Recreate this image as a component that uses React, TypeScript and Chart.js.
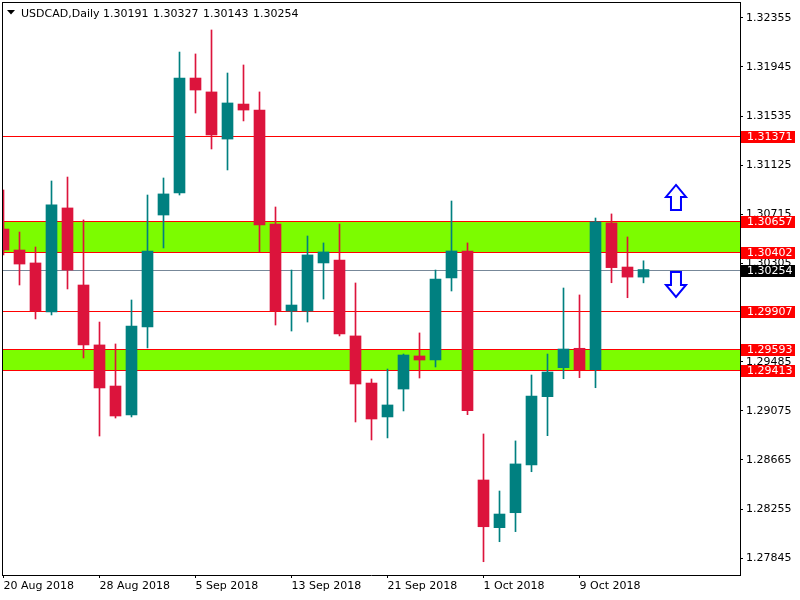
import { useEffect, useRef } from "react";
import { Chart, registerables } from "chart.js";

Chart.register(...registerables);

const symbolName = "USDCAD,Daily";

const dates = [
  "20 Aug 2018", "21 Aug 2018", "22 Aug 2018", "23 Aug 2018", "24 Aug 2018",
  "27 Aug 2018", "28 Aug 2018", "29 Aug 2018", "30 Aug 2018", "31 Aug 2018",
  "3 Sep 2018", "4 Sep 2018", "5 Sep 2018", "6 Sep 2018", "7 Sep 2018",
  "10 Sep 2018", "11 Sep 2018", "12 Sep 2018", "13 Sep 2018", "14 Sep 2018",
  "17 Sep 2018", "18 Sep 2018", "19 Sep 2018", "20 Sep 2018", "21 Sep 2018",
  "24 Sep 2018", "25 Sep 2018", "26 Sep 2018", "27 Sep 2018", "28 Sep 2018",
  "1 Oct 2018", "2 Oct 2018", "3 Oct 2018", "4 Oct 2018", "5 Oct 2018",
  "8 Oct 2018", "9 Oct 2018", "10 Oct 2018", "11 Oct 2018", "12 Oct 2018",
  "15 Oct 2018",
];

const opens = [
  1.30592, 1.30417, 1.30309, 1.29900, 1.30768, 1.30125, 1.29625, 1.29282, 1.29040, 1.29775,
  1.30709, 1.30893, 1.31852, 1.31736, 1.31343, 1.31635, 1.31585, 1.30634, 1.29908, 1.29908,
  1.30309, 1.30334, 1.29700, 1.29307, 1.29024, 1.29257, 1.29533, 1.29499, 1.30184, 1.30409,
  1.28498, 1.28100, 1.28225, 1.28623, 1.29193, 1.29435, 1.29597, 1.29418, 1.30643, 1.30275,
  1.30191,
];
const highs = [
  1.30918, 1.30567, 1.30442, 1.30993, 1.31026, 1.30668, 1.29816, 1.29633, 1.30000, 1.30876,
  1.31018, 1.32069, 1.32053, 1.32253, 1.31894, 1.31961, 1.31736, 1.30776, 1.30250, 1.30534,
  1.30476, 1.30634, 1.30142, 1.29341, 1.29424, 1.29549, 1.29725, 1.30250, 1.30826, 1.30476,
  1.28882, 1.28406, 1.28824, 1.29374, 1.29549, 1.30100, 1.30042, 1.30684, 1.30718, 1.30526,
  1.30327,
];
const lows = [
  1.30376, 1.30125, 1.29842, 1.29875, 1.30092, 1.29516, 1.28865, 1.29015, 1.29024, 1.29600,
  1.30434, 1.30876, 1.31560, 1.31260, 1.31085, 1.31494, 1.30401, 1.29791, 1.29741, 1.29816,
  1.30008, 1.29700, 1.28982, 1.28832, 1.28849, 1.29074, 1.29349, 1.29441, 1.30075, 1.29043,
  1.27816, 1.27983, 1.28067, 1.28567, 1.28868, 1.29343, 1.29352, 1.29268, 1.30144, 1.30019,
  1.30143,
];
const closes = [
  1.30417, 1.30300, 1.29908, 1.30793, 1.30250, 1.29625, 1.29266, 1.29032, 1.29783, 1.30409,
  1.30885, 1.31852, 1.31752, 1.31377, 1.31644, 1.31585, 1.30626, 1.29908, 1.29958, 1.30376,
  1.30401, 1.29716, 1.29299, 1.29007, 1.29124, 1.29541, 1.29499, 1.30175, 1.30409, 1.29076,
  1.28108, 1.28214, 1.28632, 1.29199, 1.29399, 1.29591, 1.29418, 1.30653, 1.30270, 1.30191,
  1.30254,
];

const xTickLabels = [
  "20 Aug 2018", "28 Aug 2018", "5 Sep 2018", "13 Sep 2018",
  "21 Sep 2018", "1 Oct 2018", "9 Oct 2018",
];
const yTickValues = [
  1.27845, 1.28255, 1.28665, 1.29075, 1.29485, 1.29895,
  1.30305, 1.30715, 1.31125, 1.31535, 1.31945, 1.32355,
];

const levelLines = [1.31371, 1.29907];
const zoneTops = [1.30657, 1.29593];
const zoneBottoms = [1.30402, 1.29413];
const arrowUpAt = { bar: 42.03, price: 1.3096 };
const arrowDownAt = { bar: 42.03, price: 1.30234 };

const X_MIN = -0.09375;
const X_MAX = 46.03125;
const Y_MIN = 1.277052;
const Y_MAX = 1.324865;

const BULL = "#008080";
const BEAR = "#DC143C";
const FONT = "DejaVu Sans";

export default function App() {
  const ref = useRef<HTMLCanvasElement | null>(null);

  useEffect(() => {
    const canvas = ref.current;
    if (!canvas) return;
    const n = dates.length;
    const colors = dates.map((_, i) => (closes[i] >= opens[i] ? BULL : BEAR));
    const bid = closes[n - 1];

    const rowOf = (chart: any, v: number) => Math.round(chart.scales.y.getPixelForValue(v));

    const background = {
      id: "levels",
      beforeDatasetsDraw(chart: any) {
        const { ctx, chartArea: a } = chart;
        ctx.save();
        ctx.beginPath();
        ctx.rect(a.left, a.top, a.right - a.left, a.bottom - a.top);
        ctx.clip();
        for (let k = 0; k < zoneTops.length; k++) {
          const r1 = rowOf(chart, zoneTops[k]);
          const r2 = rowOf(chart, zoneBottoms[k]);
          ctx.fillStyle = "#7CFC00";
          ctx.fillRect(a.left, r1, a.right - a.left, r2 - r1);
        }
        ctx.fillStyle = "#FF0000";
        [...zoneTops, ...zoneBottoms, ...levelLines].forEach((v) => {
          ctx.fillRect(a.left, rowOf(chart, v), a.right - a.left, 1);
        });
        ctx.fillStyle = "#778899";
        ctx.fillRect(a.left, rowOf(chart, bid), a.right - a.left, 1);
        ctx.restore();
      },
      afterDraw(chart: any) {
        const { ctx, chartArea: a, scales } = chart;
        ctx.save();
        // frame
        ctx.fillStyle = "#000";
        ctx.fillRect(a.left, a.top, a.right - a.left, 1);
        ctx.fillRect(a.left, a.top, 1, a.bottom - a.top);

        // arrows
        const drawArrow = (at: { bar: number; price: number }, up: boolean) => {
          const cx = scales.x.getPixelForValue(at.bar);
          const ty = scales.y.getPixelForValue(at.price);
          ctx.beginPath();
          if (up) {
            ctx.moveTo(cx, ty);
            ctx.lineTo(cx + 10, ty + 12);
            ctx.lineTo(cx + 5, ty + 12);
            ctx.lineTo(cx + 5, ty + 25);
            ctx.lineTo(cx - 5, ty + 25);
            ctx.lineTo(cx - 5, ty + 12);
            ctx.lineTo(cx - 10, ty + 12);
          } else {
            ctx.moveTo(cx - 5, ty);
            ctx.lineTo(cx + 5, ty);
            ctx.lineTo(cx + 5, ty + 13);
            ctx.lineTo(cx + 10, ty + 13);
            ctx.lineTo(cx, ty + 25);
            ctx.lineTo(cx - 10, ty + 13);
            ctx.lineTo(cx - 5, ty + 13);
          }
          ctx.closePath();
          ctx.fillStyle = "#FFFFFF";
          ctx.fill();
          ctx.lineWidth = 2;
          ctx.lineJoin = "miter";
          ctx.strokeStyle = "#0000FF";
          ctx.stroke();
        };
        drawArrow(arrowUpAt, true);
        drawArrow(arrowDownAt, false);

        // price labels
        ctx.font = `11px "${FONT}"`;
        ctx.textBaseline = "middle";
        ctx.textAlign = "left";
        const tag = (v: number, bg: string) => {
          const r = rowOf(chart, v);
          ctx.fillStyle = bg;
          ctx.fillRect(a.right + 1, r - 5, 54, 12);
          ctx.fillStyle = "#FFFFFF";
          ctx.fillText(v.toFixed(5), a.right + 7, r + 1.5);
        };
        levelLines.forEach((v) => tag(v, "#FF0000"));
        zoneTops.forEach((v) => tag(v, "#FF0000"));
        zoneBottoms.forEach((v) => tag(v, "#FF0000"));
        tag(bid, "#000000");

        // header
        ctx.fillStyle = "#000";
        ctx.beginPath();
        ctx.moveTo(7, 10);
        ctx.lineTo(15, 10);
        ctx.lineTo(11, 14.5);
        ctx.closePath();
        ctx.fill();
        ctx.textBaseline = "alphabetic";
        ctx.fillText(symbolName, 21, 16.5);
        const ohlc = [opens[n - 1], highs[n - 1], lows[n - 1], closes[n - 1]];
        ohlc.forEach((v, k) => ctx.fillText(v.toFixed(5), 103 + k * 50, 16.5));
        ctx.restore();
      },
    };

    const axisCommon = {
      grid: {
        display: true,
        drawOnChartArea: false,
        drawTicks: true,
        tickLength: 3,
        color: "#000",
        offset: false,
      },
      border: { display: true, color: "#000", width: 1 },
    };

    const chart = new Chart(canvas, {
      type: "bar",
      data: {
        datasets: [
          {
            label: "wick",
            data: dates.map((_, i) => ({ x: i, y: [lows[i], highs[i]] })),
            backgroundColor: colors,
            borderWidth: 0,
            barThickness: 1,
            grouped: false,
            order: 2,
          } as any,
          {
            label: "body",
            data: dates.map((_, i) => ({ x: i, y: [opens[i], closes[i]] })),
            backgroundColor: colors,
            borderWidth: 0,
            barThickness: 11,
            grouped: false,
            order: 1,
          } as any,
        ],
      },
      options: {
        animation: false,
        responsive: false,
        maintainAspectRatio: false,
        layout: { padding: { left: 2, top: 2, right: 0, bottom: 0 } },
        plugins: { legend: { display: false }, tooltip: { enabled: false } },
        scales: {
          x: {
            type: "linear",
            min: X_MIN,
            max: X_MAX,
            offset: false,
            ...axisCommon,
            ticks: {
              autoSkip: false,
              maxRotation: 0,
              minRotation: 0,
              align: "start",
              padding: 2,
              color: "#000",
              font: { family: FONT, size: 11 },
              callback: (v: any) => dates[Math.round(Number(v))] ?? "",
            },
            afterBuildTicks: (s: any) => {
              s.ticks = xTickLabels.map((l) => ({ value: dates.indexOf(l) }));
            },
            afterFit: (s: any) => {
              s.height = 25;
              s.paddingLeft = 0;
              s.paddingRight = 0;
            },
          },
          y: {
            type: "linear",
            position: "right",
            min: Y_MIN,
            max: Y_MAX,
            ...axisCommon,
            ticks: {
              autoSkip: false,
              padding: 3,
              color: "#000",
              font: { family: FONT, size: 11 },
              callback: (v: any) => Number(v).toFixed(5),
            },
            afterBuildTicks: (s: any) => {
              s.ticks = yTickValues.map((v) => ({ value: v }));
            },
            afterFit: (s: any) => {
              s.width = 60;
              s.paddingTop = 0;
              s.paddingBottom = 0;
            },
          },
        },
      } as any,
      plugins: [background],
    });

    return () => chart.destroy();
  }, []);

  return (
    <div style={{ position: "absolute", left: 0, top: 0, width: 800, height: 600, background: "#fff" }}>
      <canvas ref={ref} width={800} height={600} style={{ display: "block", width: 800, height: 600 }} />
    </div>
  );
}
